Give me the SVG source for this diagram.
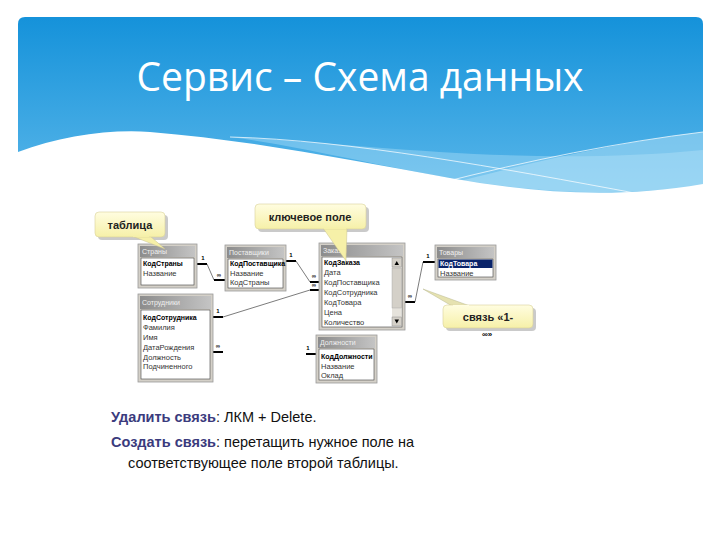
<svg xmlns="http://www.w3.org/2000/svg" width="720" height="540" viewBox="0 0 720 540">
<defs>
<linearGradient id="hdr" x1="0" y1="0" x2="0" y2="1">
<stop offset="0" stop-color="#1592da"/>
<stop offset="1" stop-color="#5cb8ea"/>
</linearGradient>
<linearGradient id="tb" x1="0" y1="0" x2="1" y2="0">
<stop offset="0" stop-color="#8c8c8c"/>
<stop offset="1" stop-color="#c4c4c4"/>
</linearGradient>
<linearGradient id="callout" x1="0" y1="0" x2="0" y2="1">
<stop offset="0" stop-color="#fffde0"/>
<stop offset="1" stop-color="#f6f0a8"/>
</linearGradient>
<style>
.frame{fill:#d4d0c8;stroke:#9a9a9a;stroke-width:0.8}
.title{fill:url(#tb)}
.list{fill:#ffffff;stroke:#404040;stroke-width:0.6}
.tt{font-family:"Liberation Sans",Arial,sans-serif;font-size:7px;fill:#f0f0f0}
.f{font-family:"Liberation Sans",Arial,sans-serif;font-size:7.5px;fill:#333}
.k{font-weight:bold;fill:#000;font-size:7px}
.ln{fill:none;stroke:#444;stroke-width:0.7}
.stub{fill:none;stroke:#000;stroke-width:2}
.lbl{font-family:"Liberation Sans",Arial,sans-serif;font-size:6px;font-weight:bold;fill:#000;text-anchor:middle}
.cb{fill:url(#callout);stroke:#d8d29a;stroke-width:0.6}
.cs{fill:#b4b4b4;opacity:0.7}
.ct{font-family:"Liberation Sans",Arial,sans-serif;font-size:11px;font-weight:bold;fill:#222;text-anchor:middle}
.bt{font-family:"Liberation Sans",Arial,sans-serif;font-size:14.5px;fill:#111}
.bb{font-weight:bold;fill:#3b3b7d}
</style>
</defs>
<rect width="720" height="540" fill="#ffffff"/>
<g id="header">
<path d="M18,24 Q18,17 25,17 H696 Q703,17 703,24 V200 H18 Z" fill="url(#hdr)"/>
<path d="M230,137 C350,142 520,168 703,150 L703,186 C600,198 520,190 450,178 C350,160 300,146 230,137 Z" fill="#a6dcf6" opacity="0.45"/>
<path d="M440,186 C540,160 620,142 703,132 L703,186 C640,196 560,196 440,186 Z" fill="#bfe6f8" opacity="0.45"/>
<path d="M18,152 C60,136 110,129 150,132 C250,140 350,160 450,178 C530,192 610,200 703,184 L703,210 L18,210 Z" fill="#ffffff"/>
<path d="M230,137 C350,140 500,168 640,194" fill="none" stroke="#ffffff" stroke-width="0.8" opacity="0.9"/>
<path d="M436,184 C530,160 620,142 703,132" fill="none" stroke="#ffffff" stroke-width="0.8" opacity="0.9"/>
<text x="360" y="91" font-family="'Open Sans','Noto Sans',sans-serif" font-size="40" fill="#ffffff" text-anchor="middle" textLength="447" lengthAdjust="spacingAndGlyphs">Сервис – Схема данных</text>
</g>
<g id="connectors">
<path class="stub" d="M197,264 H207"/>
<path class="ln" d="M207,264 L214,280"/>
<path class="stub" d="M214,280 H225"/>
<text class="lbl" x="203" y="260">1</text>
<text class="lbl" x="219" y="277">∞</text>
<path class="stub" d="M286,261 H296"/>
<path class="ln" d="M296,261 L310,282"/>
<path class="stub" d="M310,282 H319"/>
<text class="lbl" x="291" y="257">1</text>
<text class="lbl" x="314" y="278">∞</text>
<path class="stub" d="M213,317 H223"/>
<path class="ln" d="M223,317 L310,290"/>
<path class="stub" d="M310,290 H319"/>
<text class="lbl" x="218" y="313">1</text>
<text class="lbl" x="314" y="287">∞</text>
<path class="stub" d="M405,302 H415"/>
<path class="ln" d="M415,302 L423,262"/>
<path class="stub" d="M423,262 H435"/>
<text class="lbl" x="410" y="298">∞</text>
<text class="lbl" x="428" y="258">1</text>
<path class="stub" d="M213,352 H223"/>
<text class="lbl" x="218" y="348">∞</text>
<path class="stub" d="M306,354 H316"/>
<text class="lbl" x="308" y="350">1</text>
</g>
<g id="t-strany">
<rect class="frame" x="138" y="244" width="59" height="44"/>
<rect class="title" x="140" y="246" width="55" height="11"/>
<text class="tt" x="142" y="254">Страны</text>
<rect class="list" x="141" y="258" width="53" height="27"/>
<text class="f k" x="143" y="266">КодСтраны</text>
<text class="f" x="143" y="276">Название</text>
</g>
<g id="t-postavshchiki">
<rect class="frame" x="225" y="245" width="61" height="46"/>
<rect class="title" x="227" y="247" width="57" height="11"/>
<text class="tt" x="229" y="255">Поставщики</text>
<rect class="list" x="228" y="259" width="55" height="29"/>
<text class="f k" x="230" y="266">КодПоставщика</text>
<text class="f" x="230" y="275.5">Название</text>
<text class="f" x="230" y="285">КодСтраны</text>
</g>
<g id="t-zakazy">
<rect class="frame" x="319" y="243" width="86" height="87"/>
<rect class="title" x="321" y="245" width="82" height="11"/>
<text class="tt" x="323" y="253">Заказы</text>
<rect class="list" x="322" y="257" width="80" height="70"/>
<rect x="392" y="258" width="9.5" height="68" fill="#e6e3dc"/>
<rect x="392" y="258" width="9.5" height="9" fill="#d4d0c8" stroke="#808080" stroke-width="0.4"/>
<path d="M394.5,265 L396.75,261 L399,265 Z" fill="#000"/>
<rect x="392" y="317" width="9.5" height="9" fill="#d4d0c8" stroke="#808080" stroke-width="0.4"/>
<path d="M394.5,319.5 L396.75,323.5 L399,319.5 Z" fill="#000"/>
<rect x="392" y="268" width="9.5" height="40" fill="#d4d0c8" stroke="#a0a0a0" stroke-width="0.4"/>
<text class="f k" x="324" y="265">КодЗаказа</text>
<text class="f" x="324" y="275">Дата</text>
<text class="f" x="324" y="285">КодПоставщика</text>
<text class="f" x="324" y="295">КодСотрудника</text>
<text class="f" x="324" y="305">КодТовара</text>
<text class="f" x="324" y="315">Цена</text>
<text class="f" x="324" y="325">Количество</text>
</g>
<g id="t-tovary">
<rect class="frame" x="435" y="245" width="61" height="35"/>
<rect class="title" x="437" y="247" width="57" height="11"/>
<text class="tt" x="439" y="255">Товары</text>
<rect class="list" x="438" y="259" width="55" height="18"/>
<rect x="438.5" y="259.5" width="54" height="8.5" fill="#0a246a"/>
<text class="f k" x="440" y="266" style="fill:#ffffff">КодТовара</text>
<text class="f" x="440" y="275.5">Название</text>
</g>
<g id="t-sotrudniki">
<rect class="frame" x="138" y="294" width="75" height="88"/>
<rect class="title" x="140" y="296" width="71" height="13"/>
<text class="tt" x="142" y="305">Сотрудники</text>
<rect class="list" x="141" y="310" width="69" height="69"/>
<text class="f k" x="143" y="320">КодСотрудника</text>
<text class="f" x="143" y="330">Фамилия</text>
<text class="f" x="143" y="340">Имя</text>
<text class="f" x="143" y="350">ДатаРождения</text>
<text class="f" x="143" y="359.5">Должность</text>
<text class="f" x="143" y="369">Подчиненного</text>
</g>
<g id="t-dolzhnosti">
<rect class="frame" x="316" y="335" width="61" height="48"/>
<rect class="title" x="318" y="337" width="57" height="11"/>
<text class="tt" x="320" y="345">Должности</text>
<rect class="list" x="319" y="349" width="55" height="31"/>
<text class="f k" x="321" y="358.5">КодДолжности</text>
<text class="f" x="321" y="368.5">Название</text>
<text class="f" x="321" y="378">Оклад</text>
</g>
<g id="c-tablica">
<rect class="cs" x="98" y="215" width="70" height="25" rx="4"/>
<path d="M132,236 L150,236 L165,249 Z" fill="#f6f0a8" stroke="#c8c290" stroke-width="0.5"/>
<rect class="cb" x="95" y="212" width="70" height="25" rx="4"/>
<path d="M133,236.5 L149,236.5" stroke="#f6f0a8" stroke-width="1.2"/>
<text class="ct" x="130" y="228.5">таблица</text>
</g>
<g id="c-kluch">
<rect class="cs" x="258" y="207" width="111" height="25" rx="4"/>
<path d="M323,228 L347,228 L346,261 Z" fill="#f6f0a8" stroke="#c8c290" stroke-width="0.5"/>
<rect class="cb" x="255" y="204" width="111" height="25" rx="4"/>
<path d="M324,228.5 L346,228.5" stroke="#f6f0a8" stroke-width="1.2"/>
<text class="ct" x="310" y="220.5">ключевое поле</text>
</g>
<g id="c-svyaz">
<rect class="cs" x="446" y="308" width="90" height="23" rx="4"/>
<path d="M452,306 L470,306 L423,289 Z" fill="#e6e2b0" stroke="#b8b890" stroke-width="0.5"/>
<rect class="cb" x="443" y="305" width="90" height="23" rx="4"/>
<path d="M453,305.5 L469,305.5" stroke="#fffde0" stroke-width="1.2"/>
<text class="ct" x="488" y="320.5">связь «1-</text>
<text class="lbl" x="487" y="337" style="font-size:8px">∞»</text>
</g>
<g id="notes">
<text class="bt" x="111" y="422"><tspan class="bb">Удалить связь</tspan>: ЛКМ + Delete.</text>
<text class="bt" x="111" y="447"><tspan class="bb">Создать связь</tspan>: перетащить нужное поле на</text>
<text class="bt" x="128" y="468">соответствующее поле второй таблицы.</text>
</g>
</svg>
